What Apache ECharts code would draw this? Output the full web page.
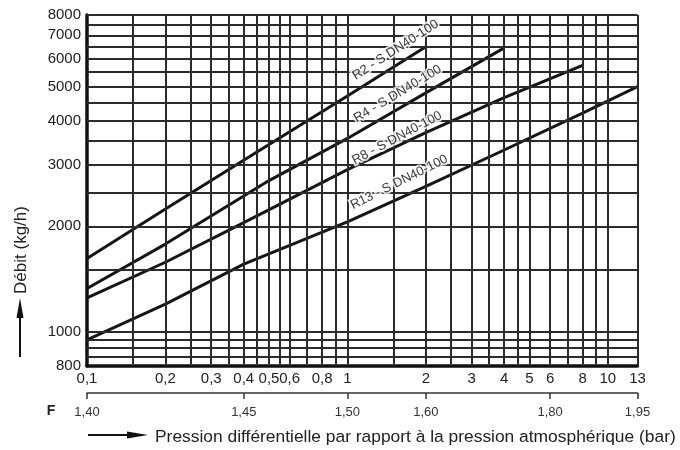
<!DOCTYPE html>
<html>
<head>
<meta charset="utf-8">
<script src="https://cdn.jsdelivr.net/npm/echarts@6/dist/echarts.min.js"></script>
<style>
  html, body { margin: 0; padding: 0; background: #fff; }
  #chart { width: 680px; height: 450px; }
</style>
</head>
<body>
<div id="chart"></div>
<script>
// tick labels
const xTicks = [0.1, 0.2, 0.3, 0.4, 0.5, 0.6, 0.8, 1, 2, 3, 4, 5, 6, 8, 10, 13];
const yTicks = [800, 1000, 2000, 3000, 4000, 5000, 6000, 7000, 8000];
// grid lines
const xGrid = [0.15, 0.2, 0.25, 0.3, 0.35, 0.4, 0.45, 0.5, 0.55, 0.6, 0.7, 0.8, 0.9, 1, 1.5, 2, 2.5, 3, 3.5, 4, 4.5, 5, 6, 7, 8, 9, 10, 13];
const yGrid = [850, 900, 950, 1000, 1500, 2000, 2500, 3000, 3500, 4000, 4500, 5000, 5500, 6000, 6500, 7000, 7500, 8000];
// F scale (under the x axis)
const fTickPos = [0.1, 0.4, 1, 2, 6, 13];
const fLabels = ['1,40', '1,45', '1,50', '1,60', '1,80', '1,95'];

// curves
const curveNames = ['R2 - S DN40-100', 'R4 - S DN40-100', 'R8 - S DN40-100', 'R13 - S DN40-100'];
const r2X = [0.1, 0.2, 0.5, 1, 2];
const r2Y = [1620, 2240, 3420, 4700, 6500];
const r4X = [0.1, 0.2, 0.5, 1, 2, 4];
const r4Y = [1330, 1780, 2700, 3560, 4800, 6450];
const r8X = [0.1, 0.2, 0.4, 1, 2, 4, 8];
const r8Y = [1250, 1580, 2050, 2900, 3700, 4650, 5750];
const r13X = [0.1, 0.2, 0.4, 1, 2, 4, 8, 13];
const r13Y = [950, 1200, 1560, 2060, 2600, 3300, 4200, 5000];

// curve labels
const labelX = [1.53, 1.56, 1.55, 1.58];
const labelY = [6360, 4770, 3570, 2670];
const labelAngle = [33, 31, 28, 26.5];

function nearest(arr, v) {
  let best = 0;
  for (let i = 1; i < arr.length; i++) {
    if (Math.abs(Math.log(arr[i] / v)) < Math.abs(Math.log(arr[best] / v))) best = i;
  }
  return best;
}
function pairs(xs, ys) {
  return xs.map((x, i) => [x, ys[i]]);
}

const font = 'Liberation Sans, Arial, sans-serif';
const lineColor = '#2b2b2b';
const curveStyle = { color: '#151515', width: 3, join: 'round' };

const chart = echarts.init(document.getElementById('chart'));
chart.setOption({
  animation: false,
  grid: { left: 87, right: 42.5, top: 15, bottom: 84 },
  xAxis: [
    {
      type: 'log', logBase: 10, min: 0.1, max: 13,
      axisLine: { lineStyle: { color: '#111', width: 3.5 } },
      axisTick: { show: false },
      splitLine: { show: false },
      minorSplitLine: { show: false },
      axisLabel: {
        customValues: xTicks,
        margin: 5,
        fontSize: 15,
        fontFamily: font,
        color: '#222',
        formatter: v => String(xTicks[nearest(xTicks, v)]).replace('.', ',')
      }
    },
    {
      type: 'log', logBase: 10, min: 0.1, max: 13,
      position: 'bottom', offset: 27,
      axisLine: { show: true, lineStyle: { color: '#333', width: 1.5 } },
      axisTick: { show: true, customValues: fTickPos, length: 6, lineStyle: { color: '#333', width: 1.5 } },
      splitLine: { show: false },
      axisLabel: {
        customValues: fTickPos,
        margin: 13,
        fontSize: 13,
        fontFamily: font,
        color: '#333',
        formatter: v => fLabels[nearest(fTickPos, v)]
      }
    }
  ],
  yAxis: {
    type: 'log', logBase: 10, min: 800, max: 8000,
    axisLine: { show: true, lineStyle: { color: '#111', width: 3.5 } },
    axisTick: { show: false },
    splitLine: { show: false },
    axisLabel: {
      customValues: yTicks,
      margin: 6,
      fontSize: 15,
      fontFamily: font,
      color: '#222',
      formatter: v => String(yTicks[nearest(yTicks, v)])
    }
  },
  graphic: [
    {
      type: 'text', x: 21, y: 250, rotation: Math.PI / 2,
      style: { text: 'Débit (kg/h)', fontSize: 17, fontFamily: font, fill: '#222', textAlign: 'center', textVerticalAlign: 'middle' }
    },
    { type: 'line', shape: { x1: 20, y1: 357, x2: 20, y2: 314 }, style: { stroke: '#111', lineWidth: 2 } },
    { type: 'polygon', shape: { points: [[20, 298], [16.5, 318], [23.5, 318]] }, style: { fill: '#111' } },
    {
      type: 'text', x: 155, y: 437,
      style: { text: 'Pression différentielle par rapport à la pression atmosphérique (bar)', fontSize: 17.4, fontFamily: font, fill: '#222', textVerticalAlign: 'middle' }
    },
    { type: 'line', shape: { x1: 88, y1: 435, x2: 132, y2: 435 }, style: { stroke: '#111', lineWidth: 2 } },
    { type: 'polygon', shape: { points: [[148, 435], [127, 431.5], [127, 438.5]] }, style: { fill: '#111' } },
    {
      type: 'text', x: 51, y: 411,
      style: { text: 'F', fontSize: 14, fontWeight: 'bold', fontFamily: font, fill: '#222', textAlign: 'center', textVerticalAlign: 'middle' }
    }
  ],
  series: [
    {
      type: 'line', data: [], silent: true,
      markLine: {
        silent: true, symbol: 'none', animation: false,
        label: { show: false },
        lineStyle: { color: lineColor, width: 2, type: 'solid' },
        data: xGrid.map(v => ({ xAxis: v })).concat(yGrid.map(v => ({ yAxis: v })))
      }
    },
    { name: curveNames[0], type: 'line', data: pairs(r2X, r2Y), symbol: 'none', lineStyle: curveStyle },
    { name: curveNames[1], type: 'line', data: pairs(r4X, r4Y), symbol: 'none', lineStyle: curveStyle },
    { name: curveNames[2], type: 'line', data: pairs(r8X, r8Y), symbol: 'none', lineStyle: curveStyle },
    { name: curveNames[3], type: 'line', data: pairs(r13X, r13Y), symbol: 'none', lineStyle: curveStyle },
    {
      type: 'scatter', silent: true, symbolSize: 0.1, z: 5,
      itemStyle: { color: 'transparent' },
      data: curveNames.map((n, i) => ({
        value: [labelX[i], labelY[i]],
        label: {
          show: true, position: 'inside', distance: 0, align: 'center', verticalAlign: 'middle',
          rotate: labelAngle[i], formatter: n,
          fontSize: 13, fontFamily: font, color: '#000',
          textBorderColor: '#fff', textBorderWidth: 4
        }
      }))
    }
  ]
});
</script>
</body>
</html>
